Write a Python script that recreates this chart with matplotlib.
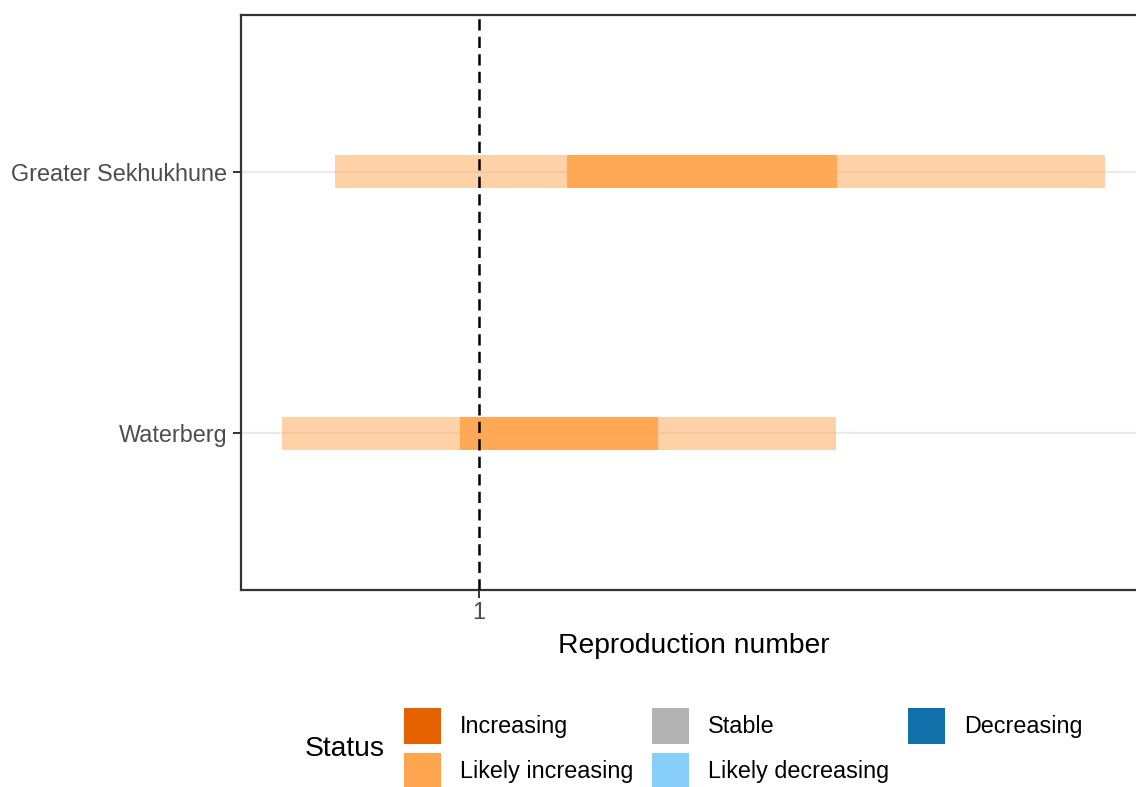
import matplotlib.pyplot as plt
from matplotlib.patches import Patch

plt.rcParams['font.family'] = ['Liberation Sans', 'DejaVu Sans']

# Estimates per district (bottom to top)
regions = ['Waterberg', 'Greater Sekhukhune']
lower_90 = [0.741, 0.811]
upper_90 = [1.470, 1.824]
lower_50 = [0.975, 1.116]
upper_50 = [1.236, 1.471]

status_labels = ['Increasing', 'Likely increasing', 'Stable',
                 'Likely decreasing', 'Decreasing']
status_colors = ['#E66100', '#FFA54F', '#B3B3B3', '#87CEFA', '#1170AA']

bar_color = '#FFA54F'
grey_text = '#4D4D4D'
dark = '#333333'

fig = plt.figure(figsize=(11.36, 7.87), dpi=100)
# panel runs slightly past the right edge of the figure
ax = fig.add_axes([241 / 1136, 1 - 590 / 787, (1146 - 241) / 1136, (590 - 15) / 787])

y = list(range(1, len(regions) + 1))
h = 0.126

for yi in y:
    ax.axhline(yi, color='#EBEBEB', lw=1.6, zorder=0)

ax.barh(y, [u - l for l, u in zip(lower_90, upper_90)], left=lower_90,
        height=h, color=bar_color, alpha=0.5, lw=0, zorder=2)
ax.barh(y, [u - l for l, u in zip(lower_50, upper_50)], left=lower_50,
        height=h, color=bar_color, alpha=0.9, lw=0, zorder=3)

ax.axvline(1, color='black', lw=1.8, linestyle=(0, (4.5, 2.5)), zorder=4)

span = max(upper_90) - min(lower_90)
ax.set_xlim(min(lower_90) - 0.05 * span, max(upper_90) + 0.05 * span)
ax.set_ylim(0.4, len(regions) + 0.6)

ax.set_xticks([1])
ax.set_xticklabels(['1'])
ax.set_yticks(y)
ax.set_yticklabels(regions)
ax.tick_params(axis='both', length=6, width=1.4, color=dark,
               labelsize=16.8, labelcolor=grey_text, pad=4)
ax.tick_params(axis='x', pad=2)

for side in ['left', 'right', 'top', 'bottom']:
    ax.spines[side].set_color(dark)
    ax.spines[side].set_linewidth(1.6)

ax.set_xlabel('Reproduction number', fontsize=20.3, color='black', labelpad=6.5)

# Legend
handles = [Patch(facecolor=c, edgecolor='none', label=l)
           for l, c in zip(status_labels, status_colors)]
fig.legend(handles=handles, ncol=3, loc='upper left',
           bbox_to_anchor=(404 / 1136, 1 - 708 / 787),
           frameon=False, fontsize=16.8, borderpad=0, borderaxespad=0,
           handlelength=1.6, handleheight=2.0, handletextpad=0.8,
           labelspacing=0.38, columnspacing=0.8)
fig.text(305 / 1136, 1 - 749 / 787, 'Status', fontsize=20.3,
         ha='left', va='center')

fig.savefig('out.png', dpi=100)
